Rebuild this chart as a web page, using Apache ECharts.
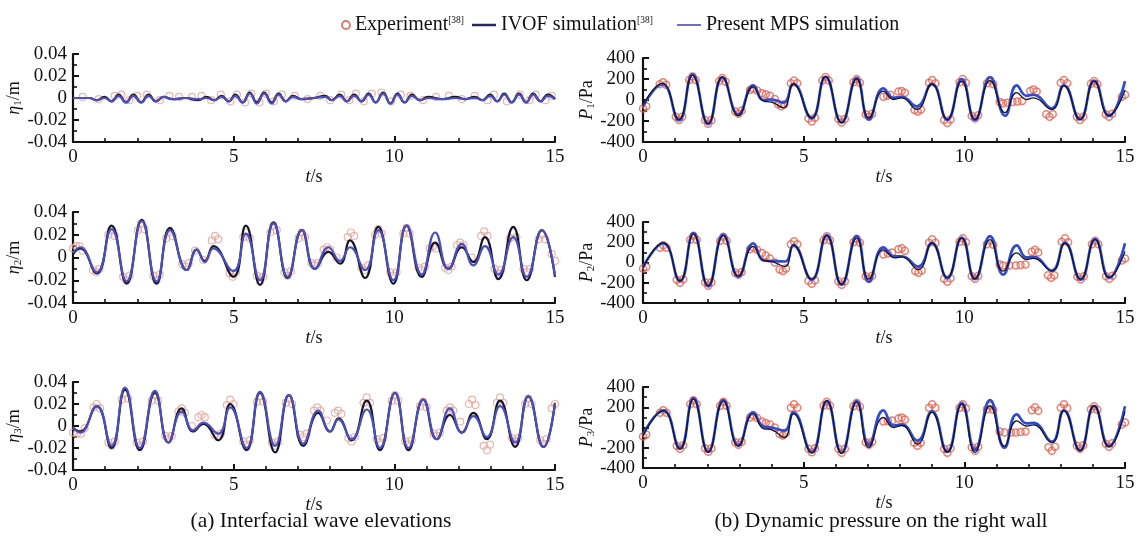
<!DOCTYPE html>
<html>
<head>
<meta charset="utf-8">
<script src="https://cdn.jsdelivr.net/npm/echarts@6/dist/echarts.min.js"></script>
<style>html,body{margin:0;padding:0;background:#fff}#c{width:1138px;height:540px}</style>
</head>
<body>
<div id="c"></div>
<script>
// ---- time axis ticks ----
const timeTicks = [0, 5, 10, 15];

// ---- interfacial wave elevation, probe 1 (m) ----
const eta1Exp = [[0.3,0.001],[0.8,-0.001],[1.3,0.002],[1.5,0.003],[1.75,-0.002],[2.0,0.002],[2.3,0.003],[2.7,-0.002],[3.0,0.002],[3.3,0.001],[3.7,0.001],[4.0,0.002],[4.3,-0.002],[4.6,0.003],[4.9,-0.003],[5.1,0.003],[5.35,-0.004],[5.55,0.004],[5.8,-0.004],[6.0,0.004],[6.25,-0.003],[6.5,0.003],[6.9,0.002],[7.3,-0.001],[7.7,0.002],[8.0,-0.002],[8.35,0.003],[8.6,-0.002],[8.8,0.004],[9.05,-0.003],[9.3,0.004],[9.6,0.005],[9.9,-0.003],[10.2,0.003],[10.5,0.002],[10.9,-0.002],[11.3,0.001],[11.7,0.002],[12.1,-0.001],[12.5,0.002],[12.9,-0.002],[13.1,0.003],[13.5,-0.003],[13.9,0.003],[14.2,-0.002],[14.4,0.003],[14.7,-0.002],[14.9,0.002]];
const eta1Ivof = [[0,0],[0.5,0],[0.74,-0.002],[0.98,0.001],[1.2,-0.003],[1.42,0.003],[1.65,-0.004],[1.88,0.003],[2.12,-0.004],[2.35,0.003],[2.58,-0.003],[2.82,0.001],[3.1,-0.001],[3.5,0],[3.9,-0.002],[4.15,0.001],[4.4,-0.002],[4.62,0.002],[4.85,-0.003],[5.05,0.003],[5.28,-0.004],[5.5,0.005],[5.72,-0.004],[5.95,0.005],[6.18,-0.004],[6.4,0.004],[6.62,-0.003],[6.85,0.002],[7.1,-0.001],[7.5,0],[7.85,0.002],[8.05,-0.002],[8.3,0.003],[8.52,-0.003],[8.75,0.003],[8.98,-0.003],[9.2,0.004],[9.42,-0.004],[9.65,0.005],[9.88,-0.005],[10.1,0.004],[10.32,-0.004],[10.55,0.003],[10.8,-0.002],[11.05,0.001],[11.5,-0.001],[11.9,0.001],[12.2,-0.001],[12.5,0.001],[12.75,-0.002],[12.98,0.003],[13.2,-0.003],[13.42,0.004],[13.65,-0.004],[13.88,0.004],[14.1,-0.004],[14.32,0.004],[14.55,-0.003],[14.78,0.003],[15,-0.001]];
const eta1Mps = [[0,0],[0.5,0],[0.74,-0.002],[0.98,0],[1.2,-0.003],[1.42,0.002],[1.65,-0.004],[1.88,0.002],[2.12,-0.004],[2.35,0.002],[2.58,-0.003],[2.82,0.001],[3.1,-0.001],[3.5,0],[3.9,-0.001],[4.15,0],[4.4,-0.002],[4.62,0.001],[4.85,-0.003],[5.05,0.002],[5.28,-0.004],[5.5,0.004],[5.72,-0.005],[5.95,0.004],[6.18,-0.005],[6.4,0.003],[6.62,-0.003],[6.85,0.001],[7.1,-0.001],[7.5,0],[7.85,0.001],[8.05,-0.002],[8.3,0.002],[8.52,-0.003],[8.75,0.002],[8.98,-0.003],[9.2,0.003],[9.42,-0.004],[9.65,0.004],[9.88,-0.005],[10.1,0.003],[10.32,-0.004],[10.55,0.002],[10.8,-0.002],[11.05,0],[11.5,-0.001],[11.9,0],[12.2,-0.001],[12.5,0],[12.75,-0.002],[12.98,0.002],[13.2,-0.003],[13.42,0.003],[13.65,-0.004],[13.88,0.003],[14.1,-0.004],[14.32,0.003],[14.55,-0.003],[14.78,0.002],[15,-0.001]];

// ---- interfacial wave elevation, probe 2 (m) ----
const eta2Exp = [[0,0.008],[0.1,0.010],[0.2,0.010],[0.3,0.006],[0.62,-0.011],[0.72,-0.013],[0.82,-0.010],[1.1,0.020],[1.2,0.024],[1.3,0.019],[1.56,-0.017],[1.66,-0.020],[1.76,-0.016],[2.02,0.024],[2.12,0.030],[2.22,0.025],[2.5,-0.016],[2.6,-0.020],[2.7,-0.015],[2.9,0.017],[3.0,0.022],[3.1,0.019],[3.4,-0.006],[3.5,-0.008],[3.6,-0.005],[3.8,0.006],[4.05,-0.002],[4.32,0.015],[4.42,0.019],[4.52,0.016],[4.87,-0.014],[4.97,-0.017],[5.07,-0.013],[5.3,0.018],[5.4,0.022],[5.5,0.017],[5.72,-0.016],[5.82,-0.021],[5.92,-0.017],[6.14,0.022],[6.24,0.028],[6.34,0.024],[6.58,-0.013],[6.68,-0.016],[6.78,-0.012],[7.02,0.017],[7.12,0.022],[7.22,0.018],[7.42,-0.005],[7.52,-0.007],[7.62,-0.005],[7.8,0.007],[7.9,0.009],[8.0,0.007],[8.2,0.000],[8.55,0.018],[8.65,0.022],[8.75,0.019],[8.98,-0.009],[9.08,-0.011],[9.18,-0.007],[9.4,0.020],[9.5,0.025],[9.6,0.021],[9.87,-0.013],[9.97,-0.016],[10.07,-0.013],[10.28,0.021],[10.38,0.026],[10.48,0.021],[10.75,-0.009],[10.85,-0.011],[10.95,-0.008],[11.1,0.008],[11.2,0.010],[11.3,0.008],[11.58,-0.009],[11.68,-0.011],[11.78,-0.008],[11.95,0.011],[12.05,0.013],[12.15,0.011],[12.4,0.000],[12.7,0.019],[12.8,0.023],[12.9,0.019],[13.12,-0.010],[13.22,-0.014],[13.32,-0.011],[13.6,0.017],[13.7,0.022],[13.8,0.018],[14.02,-0.010],[14.12,-0.013],[14.22,-0.010],[14.49,0.016],[14.59,0.020],[14.69,0.016],[14.9,0.003],[15,-0.003]];
const eta2Ivof = [[0,0.003],[0.22,0.008],[0.74,-0.014],[1.2,0.028],[1.67,-0.023],[2.14,0.033],[2.6,-0.023],[3.02,0.026],[3.54,-0.011],[3.85,0.007],[4.1,-0.003],[4.37,0.010],[4.99,-0.017],[5.38,0.028],[5.82,-0.024],[6.24,0.031],[6.68,-0.018],[7.12,0.024],[7.53,-0.010],[7.95,0.005],[8.31,-0.0055],[8.62,0.015],[9.09,-0.018],[9.5,0.027],[9.97,-0.023],[10.38,0.028],[10.85,-0.017],[11.27,0.013],[11.68,-0.010],[12.1,0.009],[12.46,-0.004],[12.82,0.018],[13.24,-0.019],[13.7,0.027],[14.12,-0.020],[14.59,0.024],[15,-0.017]];
const eta2Mps = [[0,0.004],[0.22,0.009],[0.74,-0.013],[1.2,0.025],[1.67,-0.021],[2.14,0.032],[2.6,-0.021],[3.02,0.024],[3.54,-0.011],[3.85,0.007],[4.1,-0.004],[4.37,0.008],[4.99,-0.012],[5.38,0.021],[5.82,-0.020],[6.24,0.030],[6.68,-0.017],[7.12,0.024],[7.53,-0.010],[7.95,0.009],[8.31,-0.003],[8.62,0.009],[9.09,-0.011],[9.5,0.024],[9.97,-0.020],[10.38,0.028],[10.85,-0.015],[11.27,0.022],[11.68,-0.010],[12.1,0.012],[12.46,-0.007],[12.82,0.010],[13.24,-0.015],[13.7,0.018],[14.12,-0.017],[14.59,0.024],[15,-0.016]];

// ---- interfacial wave elevation, probe 3 (m) ----
const eta3Exp = [[0,-0.006],[0.12,-0.007],[0.25,-0.007],[0.36,-0.002],[0.64,0.017],[0.74,0.020],[0.84,0.016],[1.1,-0.015],[1.2,-0.018],[1.3,-0.014],[1.52,0.024],[1.62,0.030],[1.72,0.025],[1.98,-0.015],[2.08,-0.018],[2.18,-0.014],[2.45,0.023],[2.55,0.028],[2.65,0.023],[2.87,-0.009],[2.97,-0.012],[3.07,-0.009],[3.28,0.013],[3.38,0.016],[3.48,0.012],[3.7,0.000],[3.9,0.008],[4.0,0.010],[4.1,0.008],[4.4,-0.008],[4.5,-0.010],[4.6,-0.007],[4.79,0.019],[4.89,0.024],[4.99,0.020],[5.3,-0.014],[5.4,-0.017],[5.5,-0.013],[5.72,0.022],[5.82,0.027],[5.92,0.022],[6.19,-0.015],[6.29,-0.018],[6.39,-0.014],[6.62,0.021],[6.72,0.025],[6.82,0.020],[7.07,-0.008],[7.17,-0.010],[7.27,-0.007],[7.5,0.014],[7.6,0.017],[7.7,0.014],[7.9,0.005],[8.15,0.012],[8.25,0.014],[8.35,0.011],[8.57,-0.011],[8.67,-0.014],[8.77,-0.010],[9.04,0.021],[9.14,0.026],[9.24,0.021],[9.45,-0.012],[9.55,-0.015],[9.65,-0.011],[9.92,0.023],[10.02,0.028],[10.12,0.023],[10.34,-0.014],[10.44,-0.017],[10.54,-0.013],[10.8,0.018],[10.9,0.022],[11.0,0.017],[11.22,-0.007],[11.32,-0.009],[11.42,-0.006],[11.63,0.014],[11.73,0.017],[11.83,0.014],[12.05,0.004],[12.32,0.020],[12.42,0.024],[12.52,0.019],[12.78,-0.018],[12.88,-0.022],[12.98,-0.017],[13.19,0.021],[13.29,0.026],[13.39,0.021],[13.66,-0.011],[13.76,-0.014],[13.86,-0.011],[14.07,0.020],[14.17,0.025],[14.27,0.020],[14.54,-0.013],[14.64,-0.016],[14.74,-0.012],[14.9,0.016],[15,0.020]];
const eta3Ivof = [[0,-0.002],[0.22,-0.005],[0.74,0.018],[1.2,-0.020],[1.62,0.033],[2.08,-0.022],[2.55,0.030],[2.97,-0.015],[3.38,0.016],[3.74,-0.005],[4.06,0.002],[4.52,-0.013],[4.89,0.020],[5.4,-0.022],[5.82,0.030],[6.29,-0.024],[6.72,0.028],[7.17,-0.018],[7.63,0.012],[8.0,-0.005],[8.26,0.007],[8.67,-0.013],[9.14,0.023],[9.55,-0.022],[10.02,0.030],[10.44,-0.022],[10.9,0.024],[11.32,-0.012],[11.73,0.010],[12.1,-0.006],[12.46,0.012],[12.88,-0.012],[13.29,0.023],[13.76,-0.019],[14.17,0.027],[14.64,-0.019],[15,0.021]];
const eta3Mps = [[0,-0.001],[0.22,-0.006],[0.74,0.018],[1.2,-0.018],[1.62,0.035],[2.08,-0.020],[2.55,0.032],[2.97,-0.015],[3.38,0.013],[3.74,-0.004],[4.06,0.003],[4.52,-0.007],[4.89,0.017],[5.4,-0.020],[5.82,0.031],[6.29,-0.018],[6.72,0.028],[7.17,-0.016],[7.63,0.014],[8.0,-0.005],[8.26,0.006],[8.67,-0.012],[9.14,0.015],[9.55,-0.020],[10.02,0.030],[10.44,-0.020],[10.9,0.024],[11.32,-0.012],[11.73,0.016],[12.1,-0.006],[12.46,0.009],[12.88,-0.010],[13.29,0.018],[13.76,-0.015],[14.17,0.027],[14.64,-0.019],[15,0.021]];

// ---- dynamic pressure on the right wall, gauge 1 (Pa) ----
const p1Exp = [[0,-80],[0.1,-60],[0.52,150],[0.62,170],[0.72,145],[1.02,-160],[1.12,-190],[1.22,-160],[1.44,190],[1.54,225],[1.64,190],[1.93,-190],[2.03,-225],[2.13,-190],[2.37,180],[2.47,210],[2.57,175],[2.87,-110],[2.97,-130],[3.07,-100],[3.33,95],[3.43,110],[3.55,90],[3.7,65],[3.82,55],[3.95,40],[4.1,10],[4.2,-40],[4.3,-60],[4.4,-40],[4.6,160],[4.7,185],[4.8,160],[5.15,-175],[5.25,-205],[5.35,-170],[5.58,185],[5.68,220],[5.78,185],[6.08,-180],[6.18,-215],[6.28,-180],[6.55,170],[6.65,200],[6.75,165],[6.93,-135],[7.03,-160],[7.13,-130],[7.48,30],[7.6,40],[7.7,50],[7.95,80],[8.05,85],[8.15,70],[8.45,-95],[8.55,-110],[8.65,-90],[8.9,165],[9.0,190],[9.1,160],[9.37,-190],[9.47,-220],[9.57,-185],[9.85,170],[9.95,200],[10.05,165],[10.23,-150],[10.33,-175],[10.43,-145],[10.7,160],[10.8,190],[10.9,150],[11.1,-20],[11.2,-30],[11.35,-25],[11.5,-20],[11.65,-15],[11.8,-10],[12.05,85],[12.15,100],[12.25,80],[12.55,-135],[12.65,-160],[12.75,-135],[13.0,165],[13.1,190],[13.2,160],[13.5,-160],[13.6,-190],[13.7,-160],[13.94,155],[14.04,180],[14.14,150],[14.4,-135],[14.5,-160],[14.6,-130],[14.9,30],[15,50]];
const p1Ivof = [[0,-50],[0.6,160],[1.12,-185],[1.54,235],[2.03,-225],[2.47,220],[2.97,-150],[3.43,125],[3.75,-10],[4.0,-20],[4.37,-75],[4.68,150],[5.25,-170],[5.68,225],[6.18,-215],[6.65,200],[7.03,-170],[7.48,85],[7.8,5],[8.05,20],[8.52,-90],[8.99,150],[9.47,-185],[9.92,180],[10.33,-185],[10.8,185],[11.27,-120],[11.63,70],[11.94,5],[12.15,20],[12.72,-90],[13.1,135],[13.6,-185],[14.04,180],[14.5,-150],[15,95]];
const p1Mps = [[0,-60],[0.6,150],[1.12,-195],[1.54,245],[2.03,-230],[2.47,215],[2.97,-140],[3.43,140],[3.75,0],[4.0,5],[4.37,-25],[4.68,155],[5.25,-175],[5.68,220],[6.18,-215],[6.65,210],[7.03,-185],[7.48,110],[7.8,20],[8.05,30],[8.52,-60],[8.99,155],[9.47,-190],[9.92,200],[10.33,-190],[10.8,215],[11.27,-150],[11.63,140],[11.94,40],[12.15,50],[12.72,-80],[13.1,140],[13.6,-185],[14.04,185],[14.5,-150],[15,180]];

// ---- dynamic pressure on the right wall, gauge 2 (Pa) ----
const p2Exp = [[0,-60],[0.1,-45],[0.53,145],[0.63,170],[0.73,145],[1.05,-170],[1.15,-200],[1.25,-165],[1.47,225],[1.57,265],[1.67,225],[1.93,-195],[2.03,-230],[2.13,-195],[2.4,215],[2.5,255],[2.6,215],[2.87,-100],[2.97,-120],[3.07,-95],[3.33,130],[3.43,150],[3.55,125],[3.7,95],[3.82,70],[3.95,40],[4.1,0],[4.25,-70],[4.35,-85],[4.45,-60],[4.6,180],[4.7,210],[4.8,180],[5.15,-180],[5.25,-210],[5.35,-175],[5.62,220],[5.72,260],[5.82,220],[6.08,-185],[6.18,-220],[6.28,-185],[6.55,200],[6.65,235],[6.75,195],[6.93,-135],[7.03,-160],[7.13,-130],[7.48,80],[7.62,90],[7.75,100],[7.95,130],[8.05,140],[8.15,115],[8.47,-85],[8.57,-100],[8.67,-80],[8.9,195],[9.0,230],[9.1,195],[9.37,-160],[9.47,-190],[9.57,-155],[9.85,205],[9.95,240],[10.05,200],[10.23,-135],[10.33,-160],[10.43,-130],[10.7,180],[10.8,215],[10.9,175],[11.1,-20],[11.21,-30],[11.4,-30],[11.6,-30],[11.75,-25],[11.9,-20],[12.1,105],[12.2,125],[12.3,100],[12.6,-125],[12.7,-150],[12.8,-125],[13.03,205],[13.13,240],[13.23,200],[13.52,-140],[13.62,-165],[13.72,-135],[13.97,180],[14.07,215],[14.17,180],[14.41,-135],[14.51,-160],[14.61,-130],[14.9,20],[15,40]];
const p2Ivof = [[0,-50],[0.63,195],[1.15,-180],[1.57,280],[2.03,-230],[2.5,265],[2.97,-135],[3.43,160],[3.75,20],[4.0,10],[4.42,-40],[4.68,175],[5.25,-165],[5.72,265],[6.18,-215],[6.65,240],[7.03,-165],[7.48,125],[7.84,45],[8.05,55],[8.57,-70],[8.99,190],[9.47,-150],[9.92,240],[10.33,-160],[10.8,225],[11.21,-85],[11.63,95],[11.94,30],[12.15,40],[12.72,-85],[13.13,190],[13.62,-165],[14.07,225],[14.51,-150],[15,110]];
const p2Mps = [[0,-45],[0.63,190],[1.15,-185],[1.57,290],[2.03,-235],[2.5,275],[2.97,-140],[3.43,190],[3.75,20],[4.0,15],[4.42,10],[4.68,170],[5.25,-170],[5.72,270],[6.18,-220],[6.65,260],[7.03,-190],[7.48,150],[7.84,60],[8.05,60],[8.57,-40],[8.99,195],[9.47,-155],[9.92,245],[10.33,-165],[10.8,260],[11.21,-120],[11.63,170],[11.94,50],[12.15,55],[12.72,-80],[13.13,195],[13.62,-170],[14.07,230],[14.51,-150],[15,190]];

// ---- dynamic pressure on the right wall, gauge 3 (Pa) ----
const p3Exp = [[0,-90],[0.1,-70],[0.53,145],[0.63,170],[0.73,145],[1.05,-180],[1.15,-210],[1.25,-175],[1.47,230],[1.57,270],[1.67,230],[1.93,-205],[2.03,-240],[2.13,-205],[2.4,215],[2.5,255],[2.6,215],[2.87,-145],[2.97,-170],[3.07,-140],[3.33,100],[3.43,120],[3.55,95],[3.7,60],[3.82,45],[3.95,30],[4.1,0],[4.25,-65],[4.35,-80],[4.45,-55],[4.6,195],[4.7,230],[4.8,195],[5.15,-210],[5.25,-245],[5.35,-205],[5.62,215],[5.72,255],[5.82,215],[6.08,-210],[6.18,-250],[6.28,-210],[6.55,210],[6.65,245],[6.75,205],[6.93,-145],[7.03,-170],[7.13,-140],[7.48,60],[7.62,65],[7.75,70],[7.95,90],[8.05,100],[8.15,80],[8.44,-150],[8.54,-180],[8.64,-150],[8.9,195],[9.0,230],[9.1,195],[9.37,-210],[9.47,-250],[9.57,-205],[9.85,195],[9.95,230],[10.05,190],[10.23,-195],[10.33,-230],[10.43,-190],[10.7,180],[10.8,215],[10.9,175],[11.1,-40],[11.25,-50],[11.45,-50],[11.6,-50],[11.75,-45],[11.9,-40],[12.1,170],[12.2,200],[12.3,165],[12.62,-195],[12.72,-230],[12.82,-190],[13.0,195],[13.1,230],[13.2,190],[13.5,-180],[13.6,-210],[13.7,-175],[13.94,180],[14.04,210],[14.14,175],[14.4,-160],[14.5,-190],[14.6,-155],[14.9,30],[15,50]];
const p3Ivof = [[0,-80],[0.63,165],[1.15,-215],[1.57,280],[2.03,-245],[2.5,260],[2.97,-185],[3.43,135],[3.75,-10],[4.0,-20],[4.4,-100],[4.68,135],[5.25,-250],[5.72,265],[6.18,-255],[6.65,250],[7.03,-195],[7.48,100],[7.8,0],[8.05,20],[8.54,-165],[8.99,150],[9.47,-245],[9.92,230],[10.33,-245],[10.8,215],[11.25,-185],[11.63,65],[11.94,15],[12.15,25],[12.72,-150],[13.1,165],[13.6,-230],[14.04,215],[14.5,-190],[15,160]];
const p3Mps = [[0,-70],[0.63,170],[1.15,-205],[1.57,290],[2.03,-240],[2.5,270],[2.97,-175],[3.43,150],[3.75,10],[4.0,0],[4.4,-30],[4.68,150],[5.25,-245],[5.72,260],[6.18,-250],[6.65,260],[7.03,-170],[7.48,170],[7.8,20],[8.05,30],[8.54,-130],[8.99,160],[9.47,-240],[9.92,240],[10.33,-220],[10.8,270],[11.25,-200],[11.63,130],[11.94,40],[12.15,45],[12.72,-140],[13.1,170],[13.6,-225],[14.04,215],[14.5,-185],[15,210]];

// ---- axis ranges ----
const etaRange = [-0.04, 0.04, 0.02];
const pRange = [-400, 400, 200];

const FONT = 'Liberation Serif, Times New Roman, serif';
const INK = '#111111';

// panel layout: [left, top, width, height]
const panels = [
  {box: [73, 54, 482, 88],  kind: 'eta', sub: '1', exp: eta1Exp, ivof: eta1Ivof, mps: eta1Mps},
  {box: [643, 58, 482, 84], kind: 'p',   sub: '1', exp: p1Exp,   ivof: p1Ivof,   mps: p1Mps},
  {box: [73, 212, 482, 91], kind: 'eta', sub: '2', exp: eta2Exp, ivof: eta2Ivof, mps: eta2Mps},
  {box: [643, 222, 482, 81], kind: 'p',  sub: '2', exp: p2Exp,   ivof: p2Ivof,   mps: p2Mps},
  {box: [73, 382, 482, 88], kind: 'eta', sub: '3', exp: eta3Exp, ivof: eta3Ivof, mps: eta3Mps},
  {box: [643, 387, 482, 81], kind: 'p',  sub: '3', exp: p3Exp,   ivof: p3Ivof,   mps: p3Mps}
];

const grid = [], xAxis = [], yAxis = [], series = [];

panels.forEach((pn, i) => {
  const isEta = pn.kind === 'eta';
  const rng = isEta ? etaRange : pRange;
  grid.push({left: pn.box[0], top: pn.box[1], width: pn.box[2], height: pn.box[3], containLabel: false});
  xAxis.push({
    type: 'value', gridIndex: i, min: timeTicks[0], max: timeTicks[timeTicks.length - 1], interval: 5,
    axisLine: {show: true, onZero: false, lineStyle: {color: INK, width: 2.2}},
    axisTick: {show: true, inside: true, length: 6, lineStyle: {color: INK, width: 2}},
    minorTick: {show: true, splitNumber: 5, length: 4, lineStyle: {color: INK, width: 1.6}},
    splitLine: {show: false},
    axisLabel: {margin: 6, fontFamily: FONT, fontSize: 19, color: INK},
    name: '{i|t}/s', nameLocation: 'middle', nameGap: 21,
    nameTextStyle: {fontFamily: FONT, fontSize: 18, color: INK,
      rich: {i: {fontStyle: 'italic', fontFamily: FONT, fontSize: 18, color: INK}}}
  });
  yAxis.push({
    type: 'value', gridIndex: i, min: rng[0], max: rng[1], interval: rng[2],
    axisLine: {show: true, onZero: false, lineStyle: {color: INK, width: 2.2}},
    axisTick: {show: true, inside: true, length: 6, lineStyle: {color: INK, width: 2}},
    minorTick: {show: true, splitNumber: 2, length: 4, lineStyle: {color: INK, width: 1.6}},
    splitLine: {show: false},
    axisLabel: {margin: isEta ? 6 : 8, fontFamily: FONT, fontSize: 19, color: INK},
    name: isEta ? '{i|η}{s|' + pn.sub + '}/m' : '{i|P}{s|' + pn.sub + '}/Pa',
    nameLocation: 'middle', nameRotate: 90, nameGap: isEta ? 33 : 30,
    nameTextStyle: {fontFamily: FONT, fontSize: 18, color: INK,
      rich: {
        i: {fontStyle: 'italic', fontFamily: FONT, fontSize: 18, color: INK},
        s: {fontFamily: FONT, fontSize: 11, color: INK, verticalAlign: 'bottom'}
      }}
  });
  series.push({
    name: 'Experiment', type: 'scatter', xAxisIndex: i, yAxisIndex: i, data: pn.exp,
    symbol: 'circle', symbolSize: 7, silent: true, z: 2,
    itemStyle: {color: 'rgba(255,255,255,0)', borderColor: isEta ? '#e6a298' : '#e5624f', borderWidth: isEta ? 1.2 : 1.5}
  });
  series.push({
    name: 'IVOF simulation', type: 'line', xAxisIndex: i, yAxisIndex: i, data: pn.ivof,
    showSymbol: false, symbol: 'none', smooth: 0.5, silent: true, z: isEta ? 3 : 5,
    lineStyle: {color: '#16162a', width: isEta ? 2.2 : 1.3}, itemStyle: {color: '#16162a'}
  });
  series.push({
    name: 'Present MPS simulation', type: 'line', xAxisIndex: i, yAxisIndex: i, data: pn.mps,
    showSymbol: false, symbol: 'none', smooth: 0.5, silent: true, z: 4,
    lineStyle: {color: isEta ? '#4a4fc0' : '#2f4bd2', width: isEta ? 2.2 : 2.7}, itemStyle: {color: '#4a4fc0'}
  });
});

const legendText = {fontFamily: FONT, fontSize: 20, color: INK,
  rich: {sup: {fontFamily: FONT, fontSize: 9.5, color: INK, verticalAlign: 'top'}}};
const withRef = n => n + '{sup|[38]}';

const option = {
  animation: false,
  backgroundColor: '#ffffff',
  legend: [
    {
      data: [{name: 'Experiment', icon: 'circle', itemStyle: {color: '#ffffff', borderColor: '#d8504a', borderWidth: 1.8}}],
      left: 336, top: 10, itemWidth: 8, itemHeight: 8, itemGap: 0, selectedMode: false,
      formatter: withRef, textStyle: legendText
    },
    {
      data: [{name: 'IVOF simulation', icon: 'rect', itemStyle: {color: '#23296a'}}],
      left: 467, top: 10, itemWidth: 24, itemHeight: 2.5, selectedMode: false,
      formatter: withRef, textStyle: legendText
    },
    {
      data: [{name: 'Present MPS simulation', icon: 'rect', itemStyle: {color: '#6a70c6'}}],
      left: 672, top: 10, itemWidth: 24, itemHeight: 2, selectedMode: false,
      textStyle: legendText
    }
  ],
  grid, xAxis, yAxis, series,
  graphic: [
    {type: 'text', x: 321, y: 521, style: {text: '(a) Interfacial wave elevations', font: '21.5px ' + FONT, fill: INK, align: 'center', verticalAlign: 'middle'}},
    {type: 'text', x: 881, y: 521, style: {text: '(b) Dynamic pressure on the right wall', font: '21.5px ' + FONT, fill: INK, align: 'center', verticalAlign: 'middle'}}
  ]
};

const chart = echarts.init(document.getElementById('c'), null, {renderer: 'canvas'});
chart.setOption(option);
</script>
</body>
</html>
